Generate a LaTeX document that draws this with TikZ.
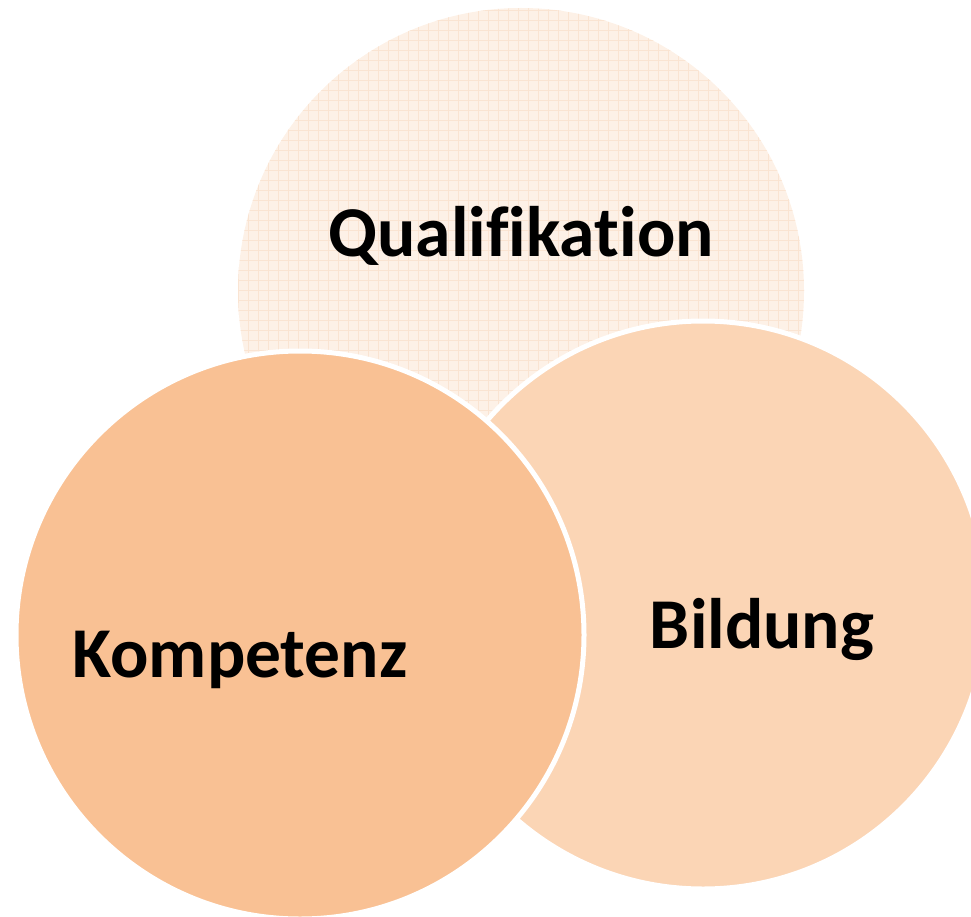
\documentclass[tikz,border=0pt]{standalone}
\usepackage{fontspec}
\setmainfont[RawFeature={-liga;-clig;-dlig}]{Carlito}
\definecolor{topfill}{HTML}{FDF1E7}
\definecolor{topgrid}{HTML}{FAE4D2}
\definecolor{rightfill}{HTML}{FBD5B5}
\definecolor{leftfill}{HTML}{F9C194}
\begin{document}
\begin{tikzpicture}[x=1pt,y=-1pt,
  lbl/.style={font=\fontsize{71.5}{80}\selectfont\bfseries, anchor=base, inner sep=0pt, text=black},
  ring/.style={draw=white, line width=5pt}]
\useasboundingbox (0,0) rectangle (971,917);
\begin{scope}
\clip (0,0) rectangle (971,917);
% top circle with grid
\fill[topfill] (521,291) circle[radius=283];
\begin{scope}
\clip (521,291) circle[radius=283];
\foreach \i in {0,...,60} {
  \draw[topgrid, line width=0.7pt] (228+\i*10,0) -- (228+\i*10,600);
  \draw[topgrid, line width=0.7pt] (230,\i*10) -- (810,\i*10);
}
\end{scope}
\node[lbl] (q) at (521,257) {Qualifikation};
% right circle
\filldraw[fill=rightfill, ring] (703,605) circle[radius=284];
\node[lbl] (b) at (762,648) {Bildung};
% left circle
\filldraw[fill=leftfill, ring] (300,635) circle[radius=284];
\node[lbl] (k) at (240,677) {Kompetenz};
\end{scope}
\end{tikzpicture}
\end{document}
